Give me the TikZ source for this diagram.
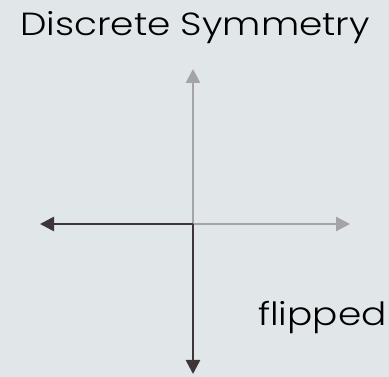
\documentclass[tikz,border=0pt]{standalone}
\usepackage{fontspec}
\setmainfont{Poppins Light}[FakeStretch=1.17]
\usetikzlibrary{arrows.meta}
\definecolor{bgc}{HTML}{E1E6E9}
\definecolor{darkaxis}{HTML}{3D3538}
\definecolor{lightaxis}{HTML}{A4A4A4}
\tikzset{
  axisline/.style={line width=2.6pt, -{Triangle[length=14pt,width=14pt]}},
  darkhalf/.style={axisline, draw=darkaxis, fill=darkaxis},
  lighthalf/.style={axisline, draw=lightaxis, fill=lightaxis},
  label/.style={font=\fontsize{32}{36}\selectfont, text=black, inner sep=0pt}
}
\begin{document}
\begin{tikzpicture}[x=1pt,y=-1pt]
  \fill[bgc] (0,0) rectangle (389,377);
  \useasboundingbox (0,0) rectangle (389,377);
  \node[label, anchor=base] (title) at (195,36) {Discrete Symmetry};
  \coordinate (origin) at (193,224);
  \coordinate (up) at (193,69);
  \coordinate (down) at (193,374);
  \coordinate (left) at (40,224);
  \coordinate (right) at (350,224);
  % light halves: original orientation
  \draw[lighthalf] (origin) -- (up);
  \draw[lighthalf] (origin) -- (right);
  % dark halves: flipped orientation
  \draw[darkhalf] (origin) -- (down);
  \draw[darkhalf] (origin) -- (left);
  \node[label, anchor=base west] (flip) at (258,326) {flipped};
\end{tikzpicture}
\end{document}
